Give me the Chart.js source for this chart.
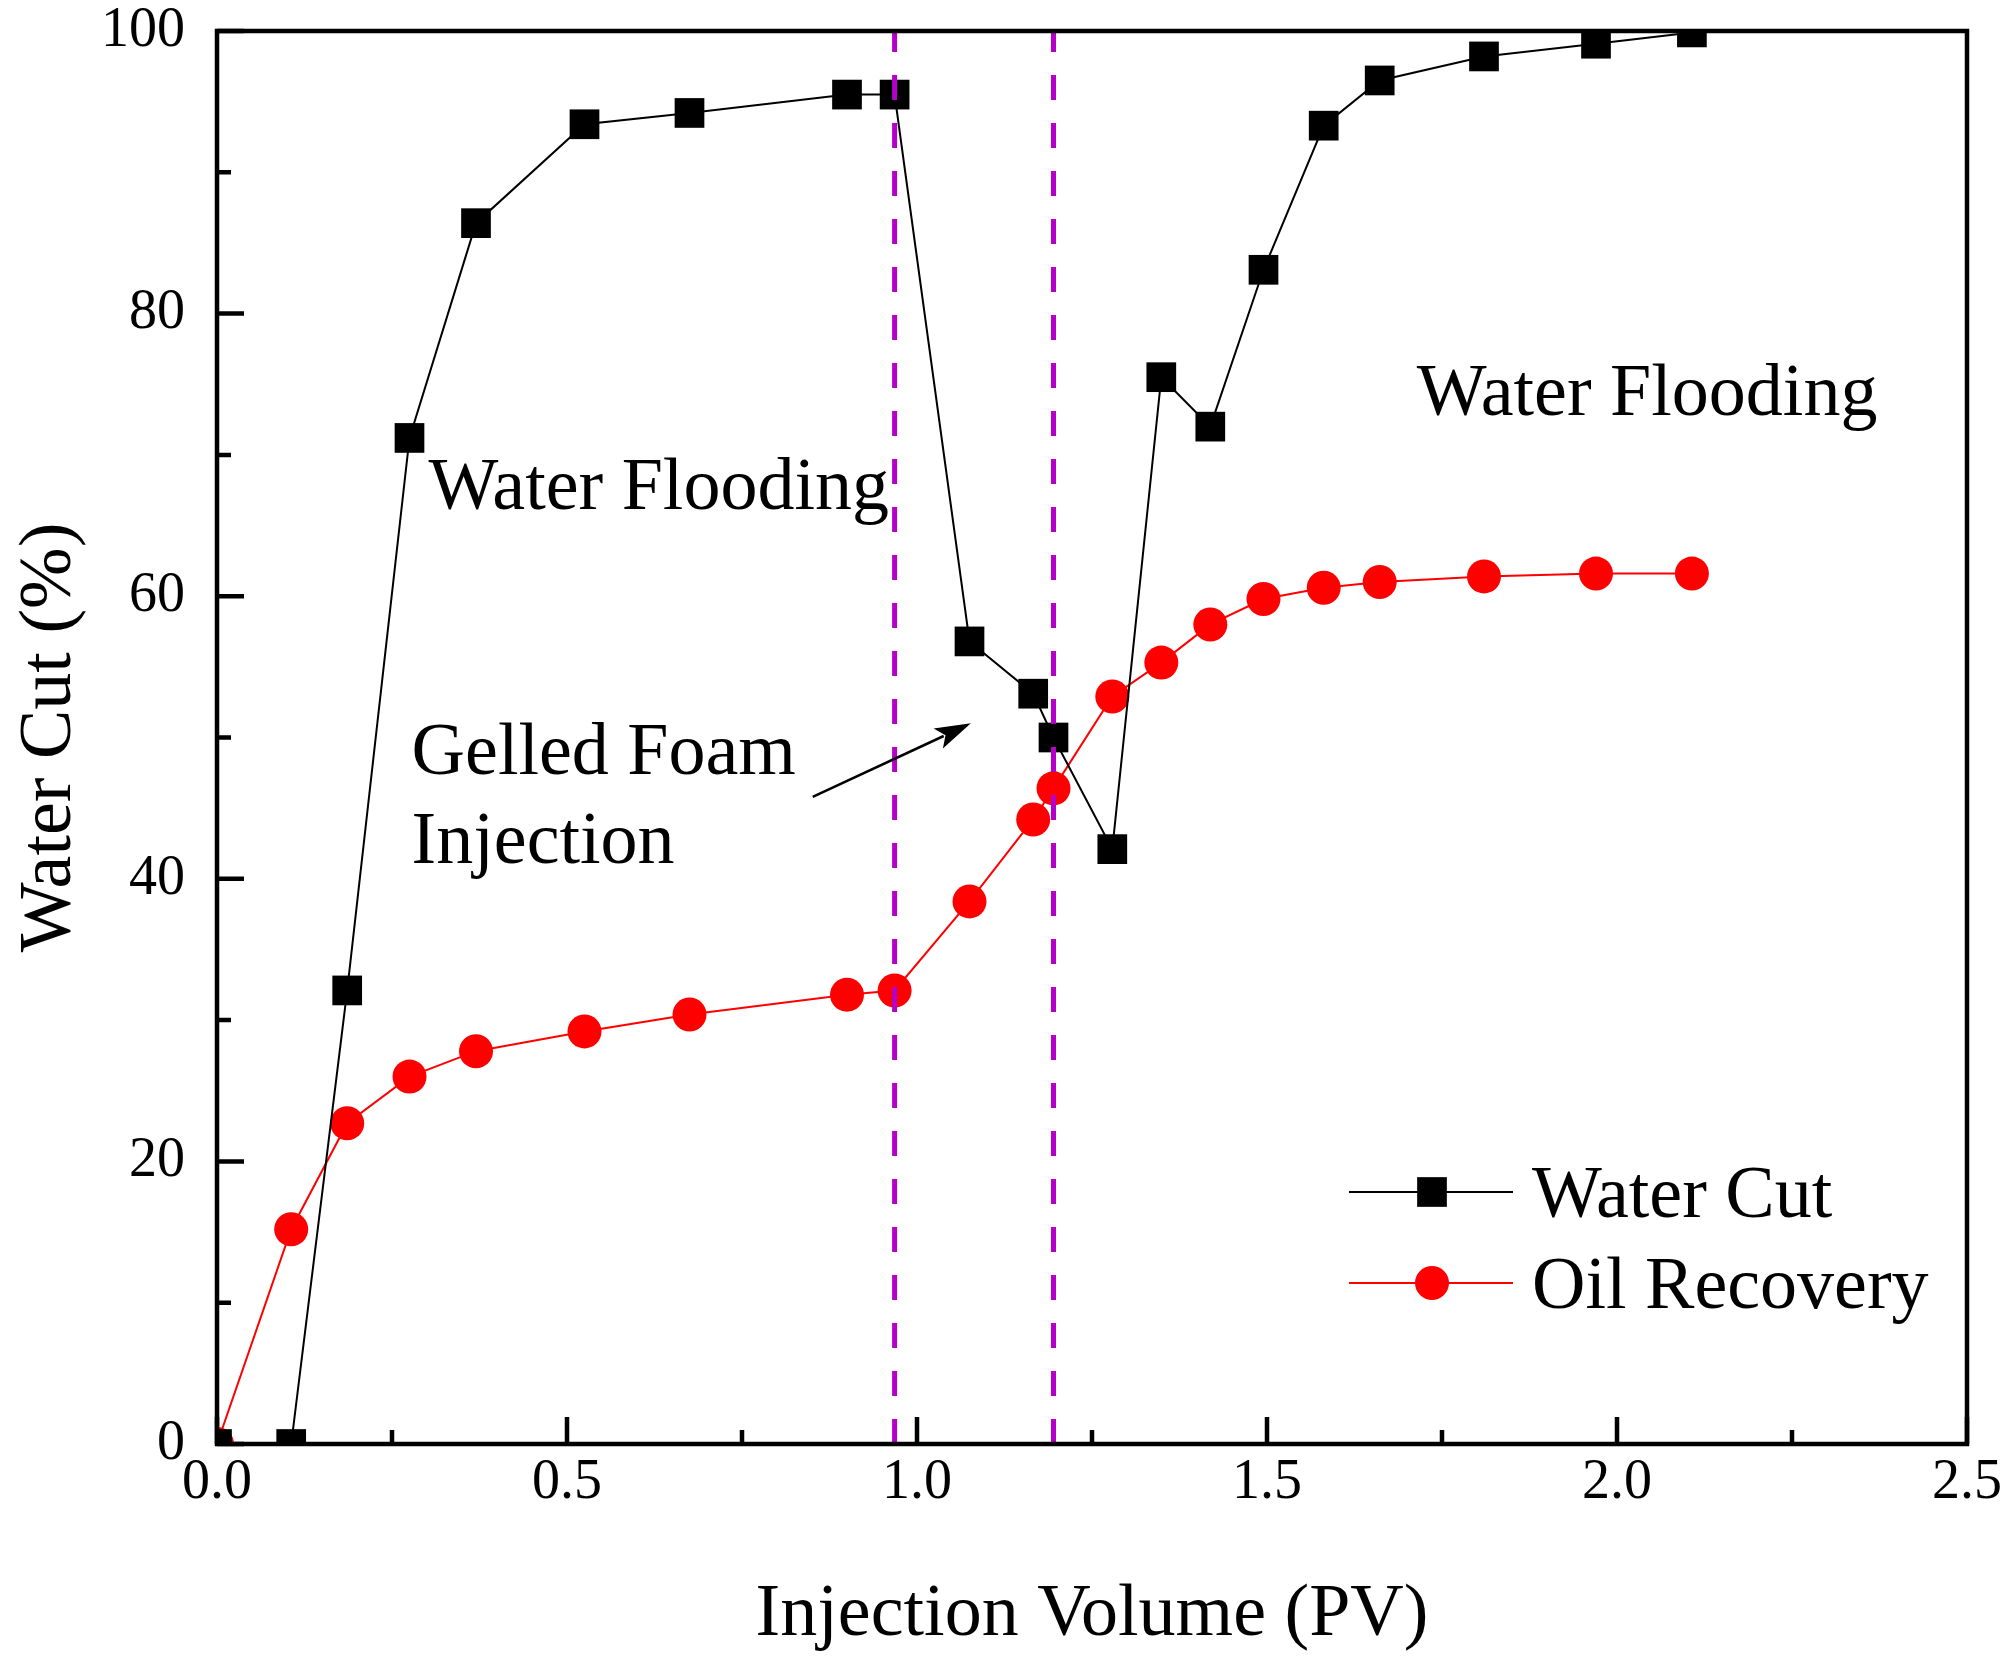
<!DOCTYPE html>
<html>
<head>
<meta charset="utf-8">
<script src="https://cdn.jsdelivr.net/npm/chart.js@4.4.1/dist/chart.umd.min.js"></script>
<style>
  html, body { margin: 0; padding: 0; background: #fff; }
  canvas { display: block; }
</style>
</head>
<body>
<canvas id="chart" width="2010" height="1656"></canvas>
<script>
// injection volume (PV), shared by both curves
const injectionPV = [0, 0.106, 0.186, 0.275, 0.37, 0.525, 0.675, 0.9, 0.968, 1.075, 1.166, 1.195, 1.279, 1.349, 1.419, 1.495, 1.581, 1.661, 1.81, 1.97, 2.107];
const waterCut = [0, 0, 32.1, 71.2, 86.4, 93.4, 94.2, 95.5, 95.5, 56.8, 53.1, 50.0, 42.1, 75.5, 72.0, 83.1, 93.3, 96.5, 98.2, 99.1, 99.9];
const oilRecovery = [0, 15.2, 22.7, 26.0, 27.8, 29.2, 30.4, 31.8, 32.1, 38.4, 44.2, 46.4, 52.9, 55.3, 58.0, 59.8, 60.6, 61.0, 61.4, 61.6, 61.6];

// start / end of gelled foam injection
const stageLimits = [0.968, 1.195];

const xTicks = [0, 0.5, 1.0, 1.5, 2.0, 2.5];
const xMinorTicks = [0.25, 0.75, 1.25, 1.75, 2.25];
const yTicks = [0, 20, 40, 60, 80, 100];
const yMinorTicks = [10, 30, 50, 70, 90];

const FONT = "'Liberation Serif', 'Times New Roman', serif";
const PURPLE = '#b400c8';

// frame + inward ticks (origin style)
const frameTicks = {
  id: 'frameTicks',
  afterDatasetsDraw(chart) {
    const { ctx, chartArea: a, scales: { x, y } } = chart;
    ctx.save();
    ctx.strokeStyle = '#000';
    ctx.lineWidth = 4.5;
    ctx.strokeRect(a.left, a.top, a.right - a.left, a.bottom - a.top);
    ctx.beginPath();
    xTicks.forEach(v => { const px = x.getPixelForValue(v); ctx.moveTo(px, a.bottom); ctx.lineTo(px, a.bottom - 27); });
    xMinorTicks.forEach(v => { const px = x.getPixelForValue(v); ctx.moveTo(px, a.bottom); ctx.lineTo(px, a.bottom - 14); });
    yTicks.forEach(v => { const py = y.getPixelForValue(v); ctx.moveTo(a.left, py); ctx.lineTo(a.left + 27, py); });
    yMinorTicks.forEach(v => { const py = y.getPixelForValue(v); ctx.moveTo(a.left, py); ctx.lineTo(a.left + 14, py); });
    ctx.stroke();
    ctx.restore();
  }
};

// texts, arrow and legend inside the plot
const annotations = {
  id: 'annotations',
  afterDraw(chart) {
    const { ctx, chartArea: a, scales: { x, y } } = chart;
    ctx.save();
    ctx.fillStyle = '#000';
    ctx.font = '74px ' + FONT;
    ctx.textAlign = 'left';
    ctx.textBaseline = 'alphabetic';
    ctx.fillText('Water Flooding', x.getPixelForValue(0.302), y.getPixelForValue(66.2));
    ctx.fillText('Water Flooding', x.getPixelForValue(1.714), y.getPixelForValue(72.8));
    ctx.fillText('Gelled Foam', x.getPixelForValue(0.278), y.getPixelForValue(47.4));
    ctx.fillText('Injection', x.getPixelForValue(0.278), y.getPixelForValue(41.1));

    // arrow pointing at the foam stage
    const x0 = x.getPixelForValue(0.851), y0 = y.getPixelForValue(45.8);
    const x1 = x.getPixelForValue(1.077), y1 = y.getPixelForValue(51.0);
    const ang = Math.atan2(y1 - y0, x1 - x0);
    ctx.strokeStyle = '#000';
    ctx.lineWidth = 2.5;
    ctx.beginPath();
    ctx.moveTo(x0, y0);
    ctx.lineTo(x1 - 30 * Math.cos(ang), y1 - 30 * Math.sin(ang));
    ctx.stroke();
    ctx.beginPath();
    ctx.moveTo(x1, y1);
    ctx.lineTo(x1 - 36 * Math.cos(ang) + 11 * Math.sin(ang), y1 - 36 * Math.sin(ang) - 11 * Math.cos(ang));
    ctx.lineTo(x1 - 28 * Math.cos(ang), y1 - 28 * Math.sin(ang));
    ctx.lineTo(x1 - 36 * Math.cos(ang) - 11 * Math.sin(ang), y1 - 36 * Math.sin(ang) + 11 * Math.cos(ang));
    ctx.closePath();
    ctx.fill();

    // legend: line + marker + label
    const series = chart.data.datasets.filter(d => d.inLegend);
    series.forEach((d, i) => {
      const rowY = a.bottom - 252 + i * 91;
      const lx = a.right - 618;
      ctx.strokeStyle = d.borderColor;
      ctx.lineWidth = d.borderWidth;
      ctx.beginPath();
      ctx.moveTo(lx, rowY);
      ctx.lineTo(lx + 164, rowY);
      ctx.stroke();
      ctx.fillStyle = d.pointBackgroundColor;
      Chart.helpers.drawPoint(ctx, { pointStyle: d.pointStyle, radius: d.pointRadius, borderWidth: 0 }, lx + 83, rowY);
      ctx.fillStyle = '#000';
      ctx.fillText(d.label, lx + 183, rowY + 25);
    });
    ctx.restore();
  }
};

const toPoints = (xs, ys) => xs.map((v, i) => ({ x: v, y: ys[i] }));

const stageLine = v => ({
  label: 'stage ' + v,
  data: [{ x: v, y: 0 }, { x: v, y: 100 }],
  borderColor: PURPLE,
  borderWidth: 5,
  borderDash: [25, 23],
  pointRadius: 0
});

new Chart(document.getElementById('chart'), {
  type: 'line',
  data: {
    datasets: [
      stageLine(stageLimits[0]),
      stageLine(stageLimits[1]),
      {
        label: 'Water Cut',
        inLegend: true,
        data: toPoints(injectionPV, waterCut),
        borderColor: '#000',
        borderWidth: 2,
        pointStyle: 'rect',
        pointRadius: 21,
        pointBackgroundColor: '#000',
        pointBorderWidth: 0
      },
      {
        label: 'Oil Recovery',
        inLegend: true,
        data: toPoints(injectionPV, oilRecovery),
        borderColor: '#ff0000',
        borderWidth: 2,
        pointStyle: 'circle',
        pointRadius: 17,
        pointBackgroundColor: '#ff0000',
        pointBorderWidth: 0
      }
    ]
  },
  options: {
    responsive: false,
    animation: false,
    devicePixelRatio: 1,
    layout: { padding: { top: 31, right: 43, left: 0, bottom: 0 } },
    plugins: { legend: { display: false }, tooltip: { enabled: false } },
    scales: {
      x: {
        type: 'linear',
        min: 0,
        max: 2.5,
        grid: { display: false, drawTicks: false },
        border: { display: false },
        afterBuildTicks: s => { s.ticks = xTicks.map(v => ({ value: v })); },
        afterFit: s => { s.height = 212; s.paddingLeft = 0; s.paddingRight = 0; },
        ticks: {
          color: '#000',
          padding: 6,
          maxRotation: 0,
          font: { family: FONT, size: 56 },
          callback: v => v.toFixed(1)
        },
        title: {
          display: true,
          text: 'Injection Volume (PV)',
          color: '#000',
          font: { family: FONT, size: 74 },
          padding: { top: 0, bottom: -4 }
        }
      },
      y: {
        min: 0,
        max: 100,
        grid: { display: false, drawTicks: false },
        border: { display: false },
        afterBuildTicks: s => { s.ticks = yTicks.map(v => ({ value: v })); },
        afterFit: s => { s.width = 217; s.paddingTop = 0; s.paddingBottom = 0; },
        ticks: {
          color: '#000',
          padding: 32,
          font: { family: FONT, size: 56 }
        },
        title: {
          display: true,
          text: 'Water Cut (%)',
          color: '#000',
          font: { family: FONT, size: 74 },
          padding: { top: 6, bottom: 0 }
        }
      }
    }
  },
  plugins: [frameTicks, annotations]
});
</script>
</body>
</html>
